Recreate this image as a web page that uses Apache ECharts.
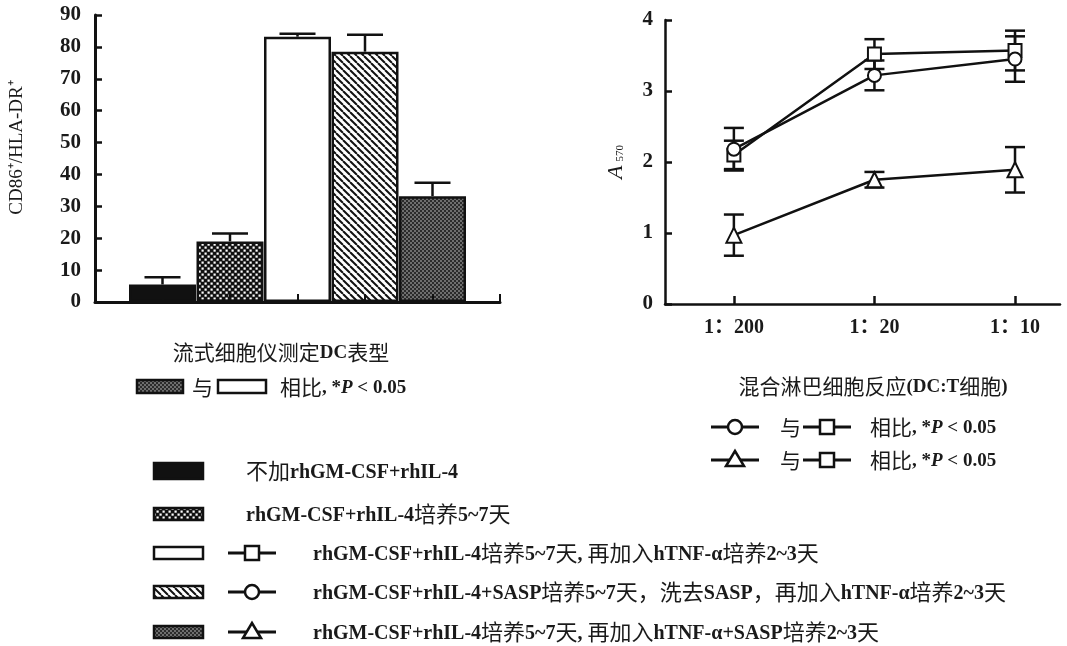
<!DOCTYPE html>
<html>
<head>
<meta charset="utf-8">
<script src="https://cdn.jsdelivr.net/npm/echarts@6/dist/echarts.min.js"></script>
<style>
  html, body { margin: 0; padding: 0; background: #fff; }
  #main { width: 1067px; height: 646px; }
</style>
</head>
<body>
<div id="main"></div>
<script>
// 左图：流式细胞仪测定DC表型
const groups = [
    '不加rhGM-CSF+rhIL-4',
    'rhGM-CSF+rhIL-4培养5~7天',
    'rhGM-CSF+rhIL-4培养5~7天, 再加入hTNF-α培养2~3天',
    'rhGM-CSF+rhIL-4+SASP培养5~7天，洗去SASP，再加入hTNF-α培养2~3天',
    'rhGM-CSF+rhIL-4培养5~7天, 再加入hTNF-α+SASP培养2~3天'
]
const cd86 = [5.5, 19, 83.2, 78.5, 33.2]
const cd86Err = [2.3, 2.5, 0.9, 5.3, 4.2]

// 右图：混合淋巴细胞反应
const ratios = ['1：200', '1：20', '1：10']
const sqVals = [2.1, 3.52, 3.57]
const sqErr = [0.2, 0.21, 0.28]
const ciVals = [2.18, 3.22, 3.45]
const ciErr = [0.3, 0.21, 0.32]
const trVals = [0.97, 1.75, 1.89]
const trErr = [0.29, 0.11, 0.32]

const SERIF = '"Liberation Serif", "Noto Sans CJK SC", serif'
const CJK = '"Noto Sans CJK SC", sans-serif'
const INK = '#1a1a1a'

function makePattern(size, draw) {
    let c = document.createElement('canvas')
    c.width = size
    c.height = size
    draw(c.getContext('2d'), size)
    return { image: c, repeat: 'repeat' }
}

// 填充图案
const checker = makePattern(6, (ctx, s) => {
    ctx.fillStyle = '#111'
    ctx.fillRect(0, 0, s, s)
    ctx.fillStyle = '#fff'
    ctx.fillRect(0.5, 0.5, 2.2, 2.2)
    ctx.fillRect(3.5, 3.5, 2.2, 2.2)
})
const hatch = makePattern(7, (ctx, s) => {
    ctx.fillStyle = '#fff'
    ctx.fillRect(0, 0, s, s)
    ctx.strokeStyle = '#111'
    ctx.lineWidth = 2
    ;[-s, 0, s].forEach(o => {
        ctx.beginPath()
        ctx.moveTo(o, 0)
        ctx.lineTo(o + s, s)
        ctx.stroke()
    })
})
const dots = makePattern(4, (ctx, s) => {
    ctx.fillStyle = '#2b2b2b'
    ctx.fillRect(0, 0, s, s)
    ctx.fillStyle = '#6e6e6e'
    ctx.fillRect(0, 0, 2, 2)
    ctx.fillRect(2, 2, 2, 2)
})
const barFills = ['#111', checker, '#fff', hatch, dots]

let myChart = echarts.init(document.getElementById('main'))

function errRender(capHalf, both) {
    return function (params, api) {
        let x = api.value(0), v = api.value(1), e = api.value(2)
        let hi = api.coord([x, v + e])
        let lo = api.coord([x, both ? v - e : v])
        let st = { stroke: '#111', lineWidth: 2.5 }
        let children = [
            { type: 'line', shape: { x1: hi[0], y1: hi[1], x2: lo[0], y2: lo[1] }, style: st },
            { type: 'line', shape: { x1: hi[0] - capHalf, y1: hi[1], x2: hi[0] + capHalf, y2: hi[1] }, style: st }
        ]
        if (both) {
            children.push({ type: 'line', shape: { x1: lo[0] - capHalf, y1: lo[1], x2: lo[0] + capHalf, y2: lo[1] }, style: st })
        }
        return { type: 'group', children: children }
    }
}

function lineSeries(name, symbol, vals) {
    return {
        name: name,
        type: 'line',
        xAxisIndex: 1,
        yAxisIndex: 1,
        symbol: symbol,
        symbolSize: symbol === 'triangle' ? 15 : 13,
        showSymbol: true,
        z: 5,
        lineStyle: { color: '#111', width: 2.5 },
        itemStyle: { color: '#fff', borderColor: '#111', borderWidth: 2 },
        data: vals.map((v, i) => [i, v])
    }
}

function errSeries(vals, errs) {
    return {
        type: 'custom',
        xAxisIndex: 1,
        yAxisIndex: 1,
        z: 4,
        renderItem: errRender(10, true),
        data: vals.map((v, i) => [i, v, errs[i]])
    }
}

// 中文用黑体，字母数字用衬线粗体
function makeRich(cjkSize, latSize) {
    return {
        z: { fontFamily: CJK, fontSize: cjkSize, fill: INK, lineHeight: 26, verticalAlign: 'middle' },
        l: { fontFamily: '"Liberation Serif"', fontWeight: 'bold', fontSize: latSize, fill: INK, lineHeight: 26, verticalAlign: 'middle', padding: [3, 0, 0, 0] },
        i: { fontFamily: '"Liberation Serif"', fontWeight: 'bold', fontStyle: 'italic', fontSize: latSize, fill: INK, lineHeight: 26, verticalAlign: 'middle', padding: [3, 0, 0, 0] }
    }
}
const RICH = makeRich(21, 19)
const RICH_BIG = makeRich(22, 20)
const CJK_RE = /[\u3000-\u303f\u4e00-\u9fff\uff00-\uffef]/
function richify(s) {
    return s.replace(/[\u3000-\u303f\u4e00-\u9fff\uff00-\uffef]+|[^\u3000-\u303f\u4e00-\u9fff\uff00-\uffef]+/g,
        m => (CJK_RE.test(m) ? '{z|' : '{l|') + m + '}')
}

// 图例与说明文字
function legendLine(cx, cy, symbol) {
    let items = [{ type: 'line', shape: { x1: cx - 24, y1: cy, x2: cx + 24, y2: cy }, style: { stroke: '#111', lineWidth: 3 } }]
    if (symbol === 'rect') {
        items.push({ type: 'rect', shape: { x: cx - 7, y: cy - 7, width: 14, height: 14 }, style: { fill: '#fff', stroke: '#111', lineWidth: 2.5 } })
    } else if (symbol === 'circle') {
        items.push({ type: 'circle', shape: { cx: cx, cy: cy, r: 7 }, style: { fill: '#fff', stroke: '#111', lineWidth: 2.5 } })
    } else {
        items.push({ type: 'polygon', shape: { points: [[cx, cy - 9], [cx - 9, cy + 6], [cx + 9, cy + 6]] }, style: { fill: '#fff', stroke: '#111', lineWidth: 2.5 } })
    }
    return items
}
function txt(x, y, text, align, rich) {
    return {
        type: 'text', x: x, y: y,
        style: { text: richify(text), rich: rich || RICH, align: align || 'left', verticalAlign: 'middle' }
    }
}
function box(x, y, w, h, fill) {
    return { type: 'rect', shape: { x: x, y: y, width: w, height: h }, style: { fill: fill, stroke: '#111', lineWidth: 2.5 } }
}
function pText(x, y) {
    return {
        type: 'text', x: x, y: y,
        style: { text: '{z|相比}{l|, *}{i|P}{l| < 0.05}', rich: RICH, verticalAlign: 'middle' }
    }
}

let graphics = [
    txt(281, 352, '流式细胞仪测定DC表型', 'center'),
    box(137, 380, 46, 13, dots),
    txt(192, 387, '与'),
    box(218, 380, 48, 13, '#fff'),
    pText(280, 387),

    txt(873, 386, '混合淋巴细胞反应(DC:T细胞)', 'center'),
    ...legendLine(735, 427, 'circle'),
    txt(780, 427, '与'),
    ...legendLine(827, 427, 'rect'),
    pText(870, 427),
    ...legendLine(735, 460, 'triangle'),
    txt(780, 460, '与'),
    ...legendLine(827, 460, 'rect'),
    pText(870, 460)
]

const rowsY = [471, 514, 553, 592, 632]
const rowSymbols = [null, null, 'rect', 'circle', 'triangle']
groups.forEach((g, i) => {
    let y = rowsY[i]
    graphics.push(box(154, y - (i === 0 ? 8 : 6), 49, i === 0 ? 16 : 12, barFills[i]))
    if (rowSymbols[i]) {
        graphics.push(...legendLine(252, y, rowSymbols[i]))
        graphics.push(txt(313, y, g, 'left', RICH_BIG))
    } else {
        graphics.push(txt(246, y, g, 'left', RICH_BIG))
    }
})

const tickFont = { color: INK, fontFamily: SERIF, fontSize: 21, fontWeight: 'bold' }

let option = {
    backgroundColor: '#fff',
    animation: false,
    grid: [
        { left: 95, top: 15, width: 405, height: 287 },
        { left: 665, top: 20, width: 395, height: 284 }
    ],
    xAxis: [{
        gridIndex: 0,
        type: 'category',
        data: ['', ...groups, ''],
        boundaryGap: false,
        z: 3,
        axisLine: { lineStyle: { color: '#111', width: 3 } },
        axisTick: { inside: true, length: 8, interval: 0, lineStyle: { color: '#111', width: 2 } },
        axisLabel: { show: false }
    }, {
        gridIndex: 1,
        type: 'value',
        min: -0.49,
        max: 2.32,
        splitLine: { show: false },
        axisLine: { onZero: false, lineStyle: { color: '#111', width: 2.5 } },
        axisTick: { inside: true, length: 8, customValues: [0, 1, 2], lineStyle: { color: '#111', width: 2.5 } },
        axisLabel: Object.assign({
            customValues: [0, 1, 2],
            margin: 14,
            formatter: v => ratios[Math.round(v)]
        }, tickFont, { fontSize: 20 })
    }],
    yAxis: [{
        gridIndex: 0,
        type: 'value',
        min: 0,
        max: 90,
        interval: 10,
        name: 'CD86⁺/HLA-DR⁺',
        nameLocation: 'middle',
        nameRotate: 90,
        nameGap: 68,
        nameTextStyle: { fontFamily: SERIF, fontSize: 19, color: INK, padding: [0, 0, 0, 22] },
        splitLine: { show: false },
        axisLine: { show: true, onZero: false, lineStyle: { color: '#111', width: 3 } },
        axisTick: { show: true, inside: true, length: 7, lineStyle: { color: '#111', width: 2.5 } },
        axisLabel: Object.assign({ margin: 14 }, tickFont)
    }, {
        gridIndex: 1,
        type: 'value',
        min: 0,
        max: 4,
        interval: 1,
        name: '{a|A}{b|570}',
        nameLocation: 'middle',
        nameRotate: 90,
        nameGap: 38,
        nameTextStyle: {
            rich: {
                a: { fontFamily: SERIF, fontStyle: 'italic', fontSize: 22, color: INK },
                b: { fontFamily: SERIF, fontSize: 11, color: INK, padding: [9, 0, 0, 4] }
            }
        },
        splitLine: { show: false },
        axisLine: { show: true, onZero: false, lineStyle: { color: '#111', width: 2.5 } },
        axisTick: { show: true, inside: true, length: 7, lineStyle: { color: '#111', width: 2.5 } },
        axisLabel: Object.assign({ margin: 12 }, tickFont)
    }],
    series: [{
        type: 'bar',
        xAxisIndex: 0,
        yAxisIndex: 0,
        barWidth: 67,
        z: 2,
        data: ['-', ...cd86.map((v, i) => ({
            value: v,
            itemStyle: { color: barFills[i], borderColor: '#111', borderWidth: 2.5 }
        })), '-']
    }, {
        type: 'custom',
        xAxisIndex: 0,
        yAxisIndex: 0,
        z: 1,
        renderItem: errRender(18, false),
        data: cd86.map((v, i) => [i + 1, v, cd86Err[i]])
    },
        errSeries(sqVals, sqErr),
        errSeries(ciVals, ciErr),
        errSeries(trVals, trErr),
        lineSeries('square', 'rect', sqVals),
        lineSeries('circle', 'circle', ciVals),
        lineSeries('triangle', 'triangle', trVals)
    ],
    graphic: graphics
}

myChart.setOption(option)
</script>
</body>
</html>
